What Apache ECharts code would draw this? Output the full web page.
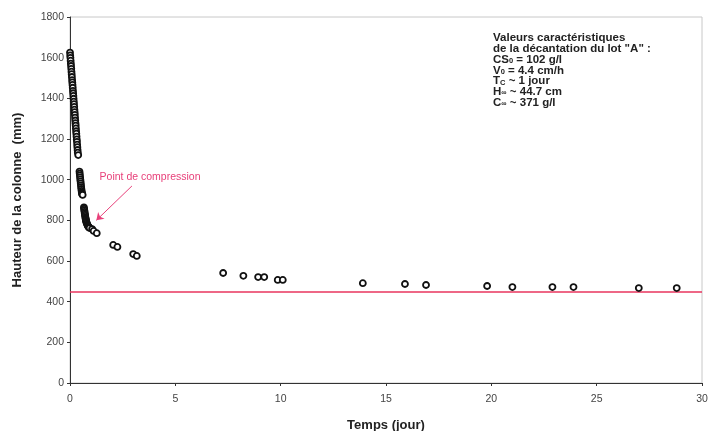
<!DOCTYPE html>
<html>
<head>
<meta charset="utf-8">
<script src="https://cdn.jsdelivr.net/npm/echarts@6/dist/echarts.min.js"></script>
<style>
  html, body { margin: 0; padding: 0; background: #fff; }
  #chart { width: 709px; height: 431px; }
</style>
</head>
<body>
<div id="chart"></div>
<script>
// mesures de decantation (temps en jours, hauteur en mm)
const temps = [
    0.00, 0.01, 0.02, 0.03, 0.04, 0.05, 0.06, 0.07, 0.08, 0.09, 0.10, 0.11,
    0.12, 0.13, 0.14, 0.15, 0.16, 0.17, 0.18, 0.19, 0.20, 0.21, 0.22, 0.23,
    0.24, 0.25, 0.26, 0.27, 0.28, 0.29, 0.30, 0.31, 0.32, 0.33, 0.34, 0.35,
    0.36, 0.37, 0.39,
    0.45, 0.46, 0.47, 0.48, 0.49, 0.50, 0.51, 0.52, 0.53, 0.54, 0.55, 0.56,
    0.57, 0.58, 0.60,
    0.66, 0.67, 0.68, 0.69, 0.70, 0.71, 0.72, 0.73, 0.74, 0.75, 0.76, 0.77,
    0.78, 0.80, 0.82, 0.84, 0.86, 0.88, 0.90, 0.93,
    1.05, 1.12, 1.27,
    2.05, 2.25, 3.00, 3.17,
    7.27, 8.23, 8.93, 9.22, 9.86, 10.1,
    13.9, 15.9, 16.9, 19.8, 21.0, 22.9, 23.9, 27.0, 28.8
];
const hauteur = [
    1625, 1611, 1599, 1585, 1571, 1559, 1545, 1531, 1519, 1505, 1490, 1478,
    1466, 1452, 1437, 1425, 1412, 1398, 1384, 1372, 1358, 1344, 1332, 1319,
    1305, 1291, 1278, 1266, 1252, 1238, 1226, 1212, 1198, 1186, 1172, 1160,
    1146, 1133, 1121,
    1040, 1030, 1021, 1011, 1001, 992, 982, 972, 963, 954, 945, 938,
    932, 928, 925,
    864, 857, 849, 842, 835, 828, 822, 815, 809, 804, 799, 794,
    790, 784, 779, 775, 771, 768, 765, 762,
    757, 748, 737,
    679, 669, 634, 625,
    541, 527, 521, 521, 507, 507,
    491, 487, 482, 477, 472, 472, 472, 467, 467
];
// hauteur finale H∞
const hInf = 447;
const xTicks = [0, 30];

const fontName = 'Liberation Sans';
let chart = echarts.init(document.getElementById('chart'));

let option = {
    backgroundColor: '#fff',
    textStyle: { fontFamily: fontName },
    grid: {
        left: 70,
        right: 7,
        top: 17,
        bottom: 48,
        outerBoundsMode: 'none',
        show: true,
        borderColor: '#c8c8c8',
        borderWidth: 1
    },
    xAxis: {
        type: 'value',
        min: 0,
        max: 30,
        interval: 5,
        name: 'Temps (jour)',
        nameLocation: 'middle',
        nameGap: 36,
        nameTextStyle: { fontSize: 13, fontWeight: 'bold', color: '#222' },
        axisLine: { lineStyle: { color: '#333', width: 1 } },
        axisTick: { length: 3, lineStyle: { color: '#333' } },
        axisLabel: { fontSize: 10.5, color: '#444', margin: 11 },
        splitLine: { show: false }
    },
    yAxis: {
        type: 'value',
        min: 0,
        max: 1800,
        interval: 200,
        name: 'Hauteur de la colonne  (mm)',
        nameLocation: 'middle',
        nameGap: 46,
        nameTextStyle: { fontSize: 13, fontWeight: 'bold', color: '#222' },
        axisLine: { show: true, lineStyle: { color: '#333', width: 1 } },
        axisTick: { show: true, length: 3, lineStyle: { color: '#333' } },
        axisLabel: { fontSize: 10.5, color: '#444', margin: 6, formatter: v => String(v) },
        splitLine: { show: false }
    },
    series: [
        {
            type: 'line',
            data: xTicks.map(t => [t, hInf]),
            symbol: 'none',
            lineStyle: { color: '#e8345e', width: 1.5 },
            silent: true,
            z: 1
        },
        {
            type: 'scatter',
            data: temps.map((t, i) => [t, hauteur[i]]),
            symbol: 'circle',
            symbolSize: 6,
            itemStyle: { color: '#fff', borderColor: '#111', borderWidth: 1.8, opacity: 1 },
            z: 3,
            markLine: {
                silent: true,
                symbol: ['none', 'arrow'],
                symbolSize: 7,
                lineStyle: { color: '#e8407a', width: 1, type: 'solid' },
                label: { show: false },
                data: [[{ coord: [2.94, 969] }, { coord: [1.25, 800] }]]
            },
            markPoint: {
                silent: true,
                symbol: 'circle',
                symbolSize: 0,
                label: {
                    show: true,
                    position: 'inside',
                    formatter: 'Point de compression',
                    fontSize: 10.5,
                    color: '#e8407a'
                },
                data: [{ coord: [3.8, 1013] }]
            }
        }
    ],
    graphic: [
        {
            type: 'text',
            left: 493,
            top: 32,
            style: {
                text: [
                    '{b|Valeurs caractéristiques}',
                    '{b|de la décantation du lot "A" :}',
                    '{b|CS}{s|0}{b| = 102 g/l}',
                    '{b|V}{s|0}{b| = 4.4 cm/h}',
                    '{b|T}{s|C}{b| ~ 1 jour}',
                    '{b|H}{s|∞}{b| ~ 44.7 cm}',
                    '{b|C}{s|∞}{b| ~ 371 g/l}'
                ].join('\n'),
                rich: {
                    b: { fontFamily: fontName, fontSize: 11.5, fontWeight: 'bold', fill: '#222', lineHeight: 10.8 },
                    s: { fontFamily: fontName, fontSize: 7.5, fontWeight: 'bold', fill: '#222', lineHeight: 10.8, verticalAlign: 'bottom', padding: [4, 0, 0, 0] }
                }
            }
        }
    ]
};

chart.setOption(option);
</script>
</body>
</html>
